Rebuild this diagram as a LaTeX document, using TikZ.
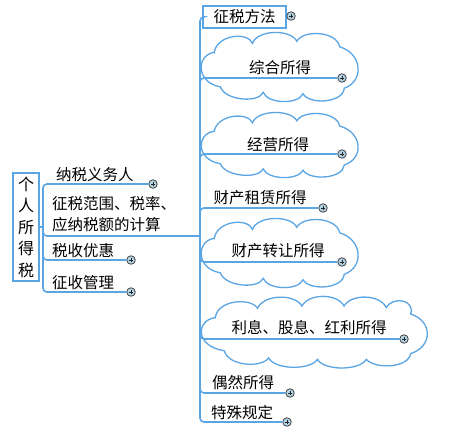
\documentclass[tikz,border=0pt]{standalone}
\usepackage{fontspec}
\setmainfont{Noto Sans CJK SC}
\definecolor{lb}{RGB}{90,165,228}
\definecolor{cf}{RGB}{178,212,228}
\begin{document}
\begin{tikzpicture}[x=1pt,y=-1pt,
  lbl/.style={inner sep=0pt, font=\fontsize{15.5}{21}\selectfont},
  br/.style={draw=lb, line width=1.6pt, rounded corners=4pt},
  cl/.style={draw=lb, line width=1.3pt},
  expd/.style={circle, draw=black!75, fill=cf, minimum size=8.5pt, inner sep=0pt, line width=0.8pt,
    path picture={\draw[black!85,line width=0.7pt]
      ([xshift=-2pt]path picture bounding box.center) -- ([xshift=2pt]path picture bounding box.center)
      ([yshift=-2pt]path picture bounding box.center) -- ([yshift=2pt]path picture bounding box.center);}}]
\useasboundingbox (0,0) rectangle (474,433);
\fill[white] (0,0) rectangle (474,433);

% clouds (unit shapes scaled into their boxes)
\begin{scope}[shift={(202,33)}, xscale=153, yscale=69]
\draw[cl] (0.08,0.28) .. controls (0.10,0.02) and (0.30,-0.02) .. (0.33,0.15)
  .. controls (0.36,-0.05) and (0.58,-0.06) .. (0.62,0.12)
  .. controls (0.66,-0.05) and (0.88,-0.03) .. (0.90,0.20)
  .. controls (1.05,0.30) and (1.06,0.70) .. (0.93,0.80)
  .. controls (0.92,1.02) and (0.70,1.04) .. (0.66,0.88)
  .. controls (0.63,1.04) and (0.43,1.03) .. (0.40,0.86)
  .. controls (0.37,1.02) and (0.15,0.98) .. (0.12,0.78)
  .. controls (-0.04,0.72) and (-0.04,0.32) .. cycle;
\end{scope}
\begin{scope}[shift={(202,113)}, xscale=153, yscale=65]
\draw[cl] (0.08,0.28) .. controls (0.10,0.02) and (0.30,-0.02) .. (0.33,0.15)
  .. controls (0.36,-0.05) and (0.58,-0.06) .. (0.62,0.12)
  .. controls (0.66,-0.05) and (0.88,-0.03) .. (0.90,0.20)
  .. controls (1.05,0.30) and (1.06,0.70) .. (0.93,0.80)
  .. controls (0.92,1.02) and (0.70,1.04) .. (0.66,0.88)
  .. controls (0.63,1.04) and (0.43,1.03) .. (0.40,0.86)
  .. controls (0.37,1.02) and (0.15,0.98) .. (0.12,0.78)
  .. controls (-0.04,0.72) and (-0.04,0.32) .. cycle;
\end{scope}
\begin{scope}[shift={(202,219)}, xscale=153, yscale=69]
\draw[cl] (0.08,0.28) .. controls (0.10,0.02) and (0.30,-0.02) .. (0.33,0.15)
  .. controls (0.36,-0.05) and (0.58,-0.06) .. (0.62,0.12)
  .. controls (0.66,-0.05) and (0.88,-0.03) .. (0.90,0.20)
  .. controls (1.05,0.30) and (1.06,0.70) .. (0.93,0.80)
  .. controls (0.92,1.02) and (0.70,1.04) .. (0.66,0.88)
  .. controls (0.63,1.04) and (0.43,1.03) .. (0.40,0.86)
  .. controls (0.37,1.02) and (0.15,0.98) .. (0.12,0.78)
  .. controls (-0.04,0.72) and (-0.04,0.32) .. cycle;
\end{scope}
\begin{scope}[shift={(202,296)}, xscale=222, yscale=72]
\draw[cl] (0.06,0.30) .. controls (0.07,0.05) and (0.22,0.02) .. (0.25,0.17)
  .. controls (0.28,-0.03) and (0.42,-0.03) .. (0.45,0.14)
  .. controls (0.48,-0.04) and (0.61,-0.04) .. (0.64,0.14)
  .. controls (0.67,-0.03) and (0.80,-0.03) .. (0.83,0.16)
  .. controls (0.86,0.00) and (0.96,0.05) .. (0.94,0.25)
  .. controls (1.04,0.35) and (1.04,0.70) .. (0.94,0.80)
  .. controls (0.93,1.00) and (0.78,1.02) .. (0.74,0.88)
  .. controls (0.71,1.04) and (0.55,1.04) .. (0.52,0.88)
  .. controls (0.49,1.03) and (0.33,1.03) .. (0.30,0.86)
  .. controls (0.27,1.00) and (0.12,0.98) .. (0.10,0.76)
  .. controls (-0.03,0.70) and (-0.03,0.34) .. cycle;
\end{scope}

% root
\node[draw=lb, line width=1.6pt, minimum width=26pt, minimum height=108pt, inner sep=0pt, align=center,
  font=\fontsize{16}{21.5}\selectfont] (root) at (26,227) {个\\人\\所\\得\\税};

\coordinate (jl) at (43,227);
\coordinate (jr) at (200,236);

% left labels
\node[lbl, anchor=west] (l1) at (56,175) {纳税义务人};
\node[lbl, anchor=west, align=left] (l2) at (52,214) {征税范围、税率、\\应纳税额的计算};
\node[lbl, anchor=west] (l3) at (52,251) {税收优惠};
\node[lbl, anchor=west] (l4) at (52,283) {征收管理};
\node[expd] (e1) at (153,184) {};
\node[expd] (e3) at (131,260) {};
\node[expd] (e4) at (131,292) {};

% right labels
\node[draw=lb, line width=1.3pt, minimum width=83pt, minimum height=22pt, inner sep=0pt,
  font=\fontsize{15.5}{18}\selectfont] (r0) at (244.5,17) {征税方法};
\node[expd] (f0) at (291,16) {};
\node[lbl] (r1) at (280,68) {综合所得};
\node[expd] (f1) at (342,78) {};
\node[lbl] (r2) at (278,145) {经营所得};
\node[expd] (f2) at (342,154) {};
\node[lbl] (r3) at (260,198) {财产租赁所得};
\node[expd] (f3) at (323,208) {};
\node[lbl] (r4) at (278,251) {财产转让所得};
\node[expd] (f4) at (342,262) {};
\node[lbl] (r5) at (309,328) {利息、股息、红利所得};
\node[expd] (f5) at (404,339) {};
\node[lbl] (r6) at (243,383) {偶然所得};
\node[expd] (f6) at (290,393) {};
\node[lbl] (r7) at (242,413) {特殊规定};
\node[expd] (f7) at (287,422) {};

% left connectors
\draw[br] (root.east) -- (jl);
\draw[br] (jl) |- (e1.west);
\draw[br] (jl) |- (jr);
\draw[br] (jl) |- (e3.west);
\draw[br] (jl) |- (e4.west);

% right connectors
\draw[br] (jr) |- (r0.west);
\draw[br] (jr) |- (f1.west);
\draw[br] (jr) |- (f2.west);
\draw[br] (jr) |- (f3.west);
\draw[br] (jr) |- (f4.west);
\draw[br] (jr) |- (f5.west);
\draw[br] (jr) |- (f6.west);
\draw[br] (jr) |- (f7.west);
\end{tikzpicture}
\end{document}
